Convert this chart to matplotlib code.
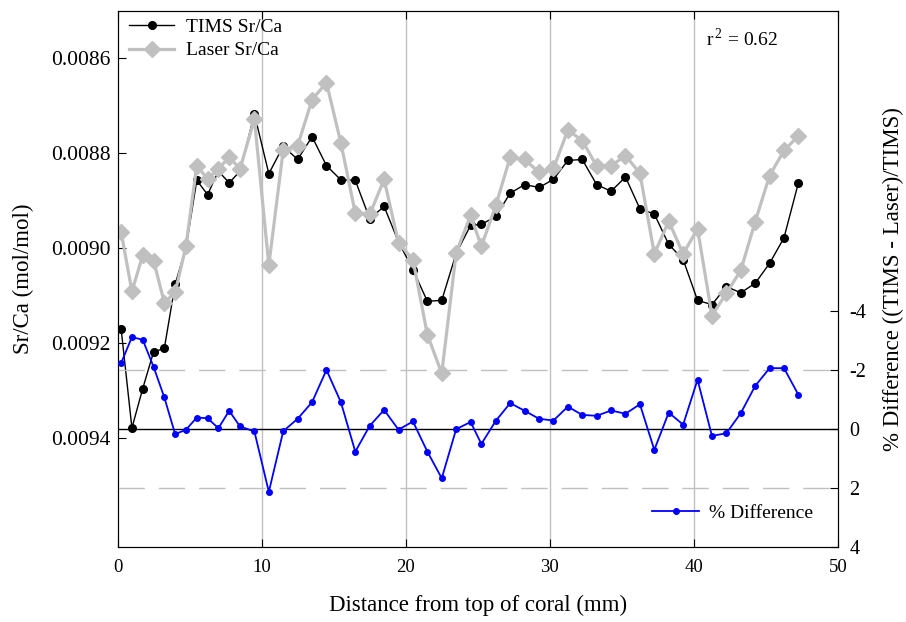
import matplotlib
matplotlib.use("Agg")
from matplotlib import pyplot as plt

plt.rcParams['font.family'] = ['Liberation Serif', 'DejaVu Serif']
plt.rcParams['mathtext.fontset'] = 'custom'
plt.rcParams['mathtext.rm'] = 'Liberation Serif'
plt.rcParams['axes.unicode_minus'] = False

# Distância a partir do topo do coral (mm)
distancia = [0.25, 1.0, 1.75, 2.5, 3.25, 4.0, 4.75, 5.5, 6.25, 7.0, 7.75, 8.5,
             9.5, 10.5, 11.5, 12.5, 13.5, 14.5, 15.5, 16.5, 17.5, 18.5, 19.5,
             20.5, 21.5, 22.5, 23.5, 24.5, 25.25, 26.25, 27.25, 28.25, 29.25,
             30.25, 31.25, 32.25, 33.25, 34.25, 35.25, 36.25, 37.25, 38.25,
             39.25, 40.25, 41.25, 42.25, 43.25, 44.25, 45.25, 46.25, 47.25]

tims = [0.009170, 0.009379, 0.009296, 0.009219, 0.009211, 0.009076, 0.008999,
        0.008857, 0.008887, 0.008838, 0.008862, 0.008838, 0.008717, 0.008843,
        0.008785, 0.008813, 0.008765, 0.008826, 0.008856, 0.008857, 0.008938,
        0.008912, 0.008987, 0.009045, 0.009112, 0.009110, 0.009011, 0.008952,
        0.008950, 0.008933, 0.008884, 0.008866, 0.008872, 0.008855, 0.008815,
        0.008813, 0.008866, 0.008880, 0.008850, 0.008917, 0.008928, 0.008992,
        0.009024, 0.009110, 0.009119, 0.009081, 0.009094, 0.009074, 0.009032,
        0.008978, 0.008862]

laser = [0.008966, 0.009091, 0.009015, 0.009026, 0.009115, 0.009093, 0.008996,
         0.008826, 0.008854, 0.008833, 0.008808, 0.008833, 0.008728, 0.009036,
         0.008793, 0.008784, 0.008687, 0.008651, 0.008778, 0.008926, 0.008929,
         0.008855, 0.008989, 0.009024, 0.009182, 0.009264, 0.009010, 0.008931,
         0.008996, 0.008910, 0.008808, 0.008813, 0.008840, 0.008832, 0.008751,
         0.008773, 0.008827, 0.008826, 0.008805, 0.008842, 0.009012, 0.008943,
         0.009012, 0.008959, 0.009142, 0.009095, 0.009047, 0.008944, 0.008847,
         0.008794, 0.008763]

diferenca = [-2.23, -3.11, -3.02, -2.11, -1.07, 0.17, 0.02, -0.39, -0.37, -0.03,
             -0.62, -0.09, 0.08, 2.12, 0.07, -0.35, -0.91, -2.00, -0.91, 0.76,
             -0.11, -0.65, 0.02, -0.26, 0.76, 1.66, 0.00, -0.24, 0.50, -0.28,
             -0.88, -0.62, -0.35, -0.29, -0.76, -0.48, -0.45, -0.63, -0.52,
             -0.84, 0.70, -0.56, -0.15, -1.67, 0.23, 0.14, -0.54, -1.46, -2.06,
             -2.06, -1.16]

fig = plt.figure(figsize=(9.06, 6.22), dpi=100)
ax1 = fig.add_axes([0.1297, 0.1198, 0.7953, 0.8625])
ax2 = ax1.twinx()

cinza = '#c0c0c0'

ax1.plot(distancia, tims, color='black', lw=1, marker='o', ms=5.5,
         label='TIMS Sr/Ca', zorder=3)
ax1.plot(distancia, laser, color=cinza, lw=2.3, marker='D', ms=8.5,
         label='Laser Sr/Ca', zorder=4)

ax1.set_xlim(0, 50)
ax1.set_ylim(0.009631, 0.0085)
ax1.set_xticks([0, 10, 20, 30, 40, 50])
ax1.set_yticks([0.0086, 0.0088, 0.0090, 0.0092, 0.0094])
ax1.set_yticklabels(['0.0086', '0.0088', '0.0090', '0.0092', '0.0094'])
ax1.tick_params(axis='both', direction='in', length=6, top=True, right=False)
ax1.tick_params(axis='y', labelsize=15.5, pad=5)
ax1.tick_params(axis='x', labelsize=13.5, pad=8)
for x in [10, 20, 30, 40]:
    ax1.axvline(x, color=cinza, lw=1, zorder=1)
ax1.set_xlabel('Distance from top of coral (mm)', fontsize=16.5, labelpad=14)
ax1.set_ylabel('Sr/Ca (mol/mol)', fontsize=16.5, labelpad=12)

ax2.axhline(0, color='black', lw=1, zorder=1)
ax2.axhline(2, color=cinza, lw=1, dashes=(19, 10), zorder=1)
ax2.axhline(-2, color=cinza, lw=1, dashes=(19, 10), zorder=1)
ax2.plot(distancia, diferenca, color='blue', lw=1.3, marker='o', ms=4,
         label='% Difference', zorder=5)
ax2.set_ylim(4, -14.13)
ax2.set_yticks([-4, -2, 0, 2, 4])
ax2.tick_params(axis='y', direction='in', length=6, labelsize=14.5, pad=8)
ax2.set_ylabel('% Difference ((TIMS - Laser)/TIMS)', fontsize=16.5,
               labelpad=12)

ax1.legend(loc='upper left', bbox_to_anchor=(0, 1.008), frameon=False,
           fontsize=14, handlelength=2.3, handletextpad=0.6,
           labelspacing=0.3, borderaxespad=0.2)
ax2.legend(loc='lower right', bbox_to_anchor=(1, 0), frameon=False,
           fontsize=14, handlelength=2.4, handletextpad=0.5,
           borderaxespad=0.9)

ax1.text(0.817, 0.935, r'r$^{\,2}$ = 0.62', transform=ax1.transAxes,
         fontsize=14, va='baseline', ha='left')

fig.savefig('out.png', dpi=100)
